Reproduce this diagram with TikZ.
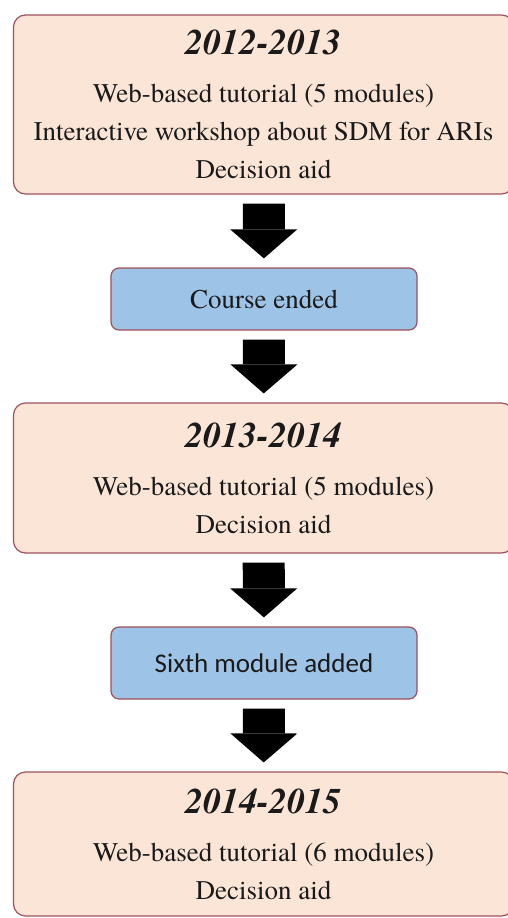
\documentclass[tikz,border=0pt]{standalone}
\usepackage{fontspec}
\setmainfont{texgyretermes}[Extension=.otf, UprightFont=*-regular, BoldFont=*-bold, ItalicFont=*-italic, BoldItalicFont=*-bolditalic]
\newfontfamily\calibri{Carlito}
\usetikzlibrary{arrows.meta}

\definecolor{peach}{HTML}{FBE5D6}
\definecolor{skyblue}{HTML}{9DC3E6}
\definecolor{rim}{HTML}{A0505A}
\definecolor{ink}{HTML}{1A1A1A}

\newcommand{\yearlabel}[1]{{\fontsize{36}{38}\selectfont\bfseries\itshape #1}}

\begin{document}
\begin{tikzpicture}[x=1pt, y=-1pt,
    yearbox/.style={draw=rim, fill=peach, line width=1.2pt, rounded corners=12pt, minimum width=500pt, align=center, inner sep=0pt, text=ink, font=\fontsize{27}{38}\selectfont},
    stepbox/.style={draw=rim, fill=skyblue, line width=1.2pt, rounded corners=8pt, minimum width=306pt, inner sep=0pt, text=ink, font=\fontsize{27}{32}\selectfont},
    flowarrow/.style={line width=42pt, -{Triangle[width=67pt, length=29pt, line width=0pt]}, shorten <=9pt, shorten >=9pt}]

    % Page frame
    \useasboundingbox (0,0) rectangle (507,918);

    % Year boxes
    \node[yearbox, minimum height=179pt] (y12) at (263.5, 104.5) {\yearlabel{2012-2013}\\[10pt] Web-based tutorial (5 modules)\\ Interactive workshop about SDM for ARIs\\ Decision aid};
    \node[yearbox, minimum height=150pt] (y13) at (263.5, 478) {\yearlabel{2013-2014}\\[10pt] Web-based tutorial (5 modules)\\ Decision aid};
    \node[yearbox, minimum height=144pt] (y14) at (263.5, 844) {\yearlabel{2014-2015}\\[10pt] Web-based tutorial (6 modules)\\ Decision aid};

    % Change boxes in between
    \node[stepbox, minimum height=62pt] (ended) at (264, 299) {Course ended};
    \node[stepbox, minimum height=72pt] (sixth) at (264, 663) {\calibri Sixth module added};

    % Block arrows
    \draw[flowarrow] (y12) -- (ended);
    \draw[flowarrow] (ended) -- (y13);
    \draw[flowarrow] (y13) -- (sixth);
    \draw[flowarrow] (sixth) -- (y14);
\end{tikzpicture}
\end{document}
